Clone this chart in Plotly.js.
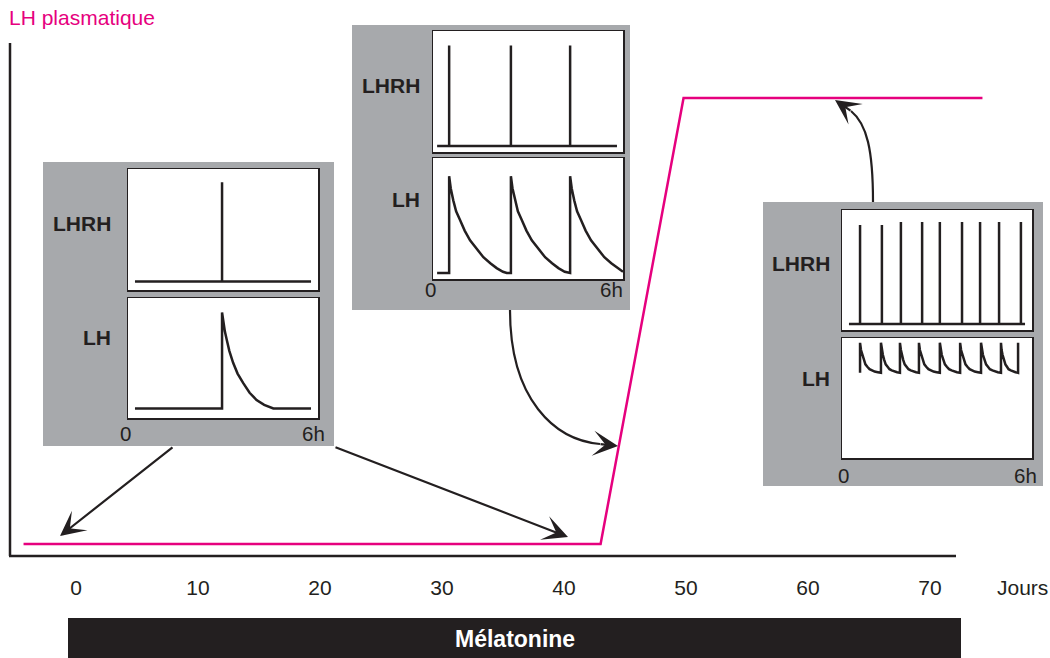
<!DOCTYPE html>
<html>
<head>
<meta charset="utf-8">
<script src="https://cdn.plot.ly/plotly-3.0.1.min.js"></script>
<style>html,body{margin:0;padding:0;background:#fff;}#chart{width:1050px;height:658px;}</style>
</head>
<body>
<div id="chart"></div>
<script>
// ---------- main curve: plasma LH over days ----------
const days = [-4.3, 43, 49.8, 74.3];
const lhPlasma = [0, 0, 100, 100];
const dayTicks = [0, 10, 20, 30, 40, 50, 60, 70];
const dayTickText = ['0', '10', '20', '30', '40', '50', '60', '70'];

// ---------- inset 1 (one pulse in 6 h) ----------
const lhrh1Hours = [0.22, 2.97, 2.97, 2.97, 5.78];
const lhrh1Level = [0.07, 0.07, 0.89, 0.07, 0.07];
const lh1Hours = [0.22, 2.97, 2.97, 3.01, 3.06, 3.12, 3.20, 3.32, 3.46, 3.64, 3.84, 4.06, 4.30, 4.59, 5.78];
const lh1Level = [0.08, 0.08, 0.88, 0.80, 0.72, 0.65, 0.56, 0.46, 0.37, 0.29, 0.21, 0.15, 0.11, 0.08, 0.08];

// ---------- inset 2 (three pulses in 6 h) ----------
const lhrh2Hours = [0.13, 0.51, 0.51, 0.51, 2.46, 2.46, 2.46, 4.33, 4.33, 4.33, 5.81];
const lhrh2Level = [0.05, 0.05, 0.88, 0.05, 0.05, 0.88, 0.05, 0.05, 0.88, 0.05, 0.05];
const lh2Hours = [0.13, 0.51,
  0.51, 0.56, 0.64, 0.73, 0.85, 1.00, 1.17, 1.37, 1.59, 1.81, 2.01, 2.21, 2.33, 2.46,
  2.46, 2.51, 2.59, 2.68, 2.80, 2.95, 3.12, 3.32, 3.54, 3.76, 3.96, 4.16, 4.28, 4.33,
  4.33, 4.38, 4.46, 4.55, 4.67, 4.82, 4.99, 5.19, 5.41, 5.63, 5.83, 6.00];
const lh2Level = [0.05, 0.05,
  0.85, 0.75, 0.65, 0.56, 0.49, 0.40, 0.32, 0.25, 0.18, 0.13, 0.09, 0.06, 0.05, 0.05,
  0.85, 0.75, 0.65, 0.56, 0.49, 0.40, 0.32, 0.25, 0.18, 0.13, 0.09, 0.06, 0.05, 0.05,
  0.85, 0.75, 0.65, 0.56, 0.49, 0.40, 0.32, 0.25, 0.18, 0.13, 0.09, 0.06];

// ---------- inset 3 (nine pulses in 6 h) ----------
const lhrh3Hours = [0.22, 0.57, 0.57, 0.57, 1.26, 1.26, 1.26, 1.86, 1.86, 1.86,
                    2.53, 2.53, 2.53, 3.09, 3.09, 3.09, 3.79, 3.79, 3.79,
                    4.36, 4.36, 4.36, 4.96, 4.96, 4.96, 5.65, 5.65, 5.65, 5.78];
const lhrh3Level = [0.05, 0.05, 0.875, 0.05, 0.05, 0.875, 0.05, 0.05, 0.9, 0.05,
                    0.05, 0.9, 0.05, 0.05, 0.9, 0.05, 0.05, 0.9, 0.05,
                    0.05, 0.9, 0.05, 0.05, 0.9, 0.05, 0.05, 0.9, 0.05, 0.05];
const lh3Hours = [0.57,
  0.57, 0.60, 0.64, 0.69, 0.74, 0.80, 0.87, 0.95, 1.03, 1.13, 1.23,
  1.23, 1.26, 1.29, 1.33, 1.38, 1.44, 1.50, 1.57, 1.65, 1.74, 1.83,
  1.83, 1.86, 1.89, 1.93, 1.98, 2.04, 2.10, 2.17, 2.25, 2.34, 2.43,
  2.43, 2.46, 2.50, 2.55, 2.60, 2.66, 2.73, 2.81, 2.89, 2.99, 3.09,
  3.09, 3.12, 3.15, 3.20, 3.25, 3.31, 3.38, 3.46, 3.54, 3.63, 3.73,
  3.73, 3.76, 3.80, 3.85, 3.90, 3.96, 4.03, 4.11, 4.19, 4.29, 4.39,
  4.39, 4.42, 4.45, 4.50, 4.55, 4.61, 4.67, 4.75, 4.83, 4.92, 5.02,
  5.02, 5.04, 5.07, 5.11, 5.16, 5.21, 5.26, 5.33, 5.40, 5.48, 5.56,
  5.56];
const lh3Level = [0.71,
  0.96, 0.90, 0.86, 0.82, 0.78, 0.76, 0.74, 0.73, 0.72, 0.715, 0.71,
  0.96, 0.90, 0.86, 0.82, 0.78, 0.76, 0.74, 0.73, 0.72, 0.715, 0.71,
  0.96, 0.90, 0.86, 0.82, 0.78, 0.76, 0.74, 0.73, 0.72, 0.715, 0.71,
  0.96, 0.90, 0.86, 0.82, 0.78, 0.76, 0.74, 0.73, 0.72, 0.715, 0.71,
  0.96, 0.90, 0.86, 0.82, 0.78, 0.76, 0.74, 0.73, 0.72, 0.715, 0.71,
  0.96, 0.90, 0.86, 0.82, 0.78, 0.76, 0.74, 0.73, 0.72, 0.715, 0.71,
  0.96, 0.90, 0.86, 0.82, 0.78, 0.76, 0.74, 0.73, 0.72, 0.715, 0.71,
  0.96, 0.90, 0.86, 0.82, 0.78, 0.76, 0.74, 0.73, 0.72, 0.715, 0.71,
  0.96];

// ---------- texts ----------
const yTitle = 'LH plasmatique';
const xTitle = 'Jours';
const barLabel = 'Mélatonine';
const hormoneLabels = ['LHRH', 'LH'];
const hourLabels = ['0', '6h'];

// ---------- layout helpers ----------
const W = 1050, H = 658;
const px = v => v / W;
const py = v => 1 - v / H;
const DARK = '#231f20', PINK = '#e6007e', GRAY = '#a7a9ac';
const FONT = 'Liberation Sans, Arial, Helvetica, sans-serif';

const traces = [{
  x: days, y: lhPlasma, xaxis: 'x', yaxis: 'y', mode: 'lines',
  line: {color: PINK, width: 2.5}, hoverinfo: 'skip', showlegend: false
}];
function pulseTrace(x, y, n) {
  return {x: x, y: y, xaxis: 'x' + n, yaxis: 'y' + n, mode: 'lines',
          line: {color: DARK, width: 2.5, shape: 'linear'}, hoverinfo: 'skip', showlegend: false};
}
traces.push(pulseTrace(lhrh1Hours, lhrh1Level, 2));
traces.push(pulseTrace(lh1Hours, lh1Level, 3));
traces.push(pulseTrace(lhrh2Hours, lhrh2Level, 4));
traces.push(pulseTrace(lh2Hours, lh2Level, 5));
traces.push(pulseTrace(lhrh3Hours, lhrh3Level, 6));
traces.push(pulseTrace(lh3Hours, lh3Level, 7));

const layout = {
  width: W, height: H,
  margin: {l: 0, r: 0, t: 0, b: 0},
  paper_bgcolor: 'white', plot_bgcolor: 'white',
  font: {family: FONT, color: DARK, size: 21},
  showlegend: false,
  xaxis: {domain: [0, 1], range: [-76 / 12.2, 974 / 12.2], anchor: 'y',
          showline: false, showgrid: false, zeroline: false,
          tickvals: dayTicks, ticktext: dayTickText, ticks: 'outside', ticklen: 0,
          ticklabelstandoff: 13, tickfont: {size: 21, color: DARK, family: FONT}},
  yaxis: {domain: [py(556), 1], range: [(544 - 556) / 4.46, 544 / 4.46], anchor: 'x',
          showline: false, showgrid: false, zeroline: false, showticklabels: false, ticks: ''},
  shapes: [], annotations: []
};

// inset axes
const insetBox = {showline: true, mirror: true, linecolor: DARK, linewidth: 1.5,
                  showgrid: false, zeroline: false, showticklabels: false, ticks: ''};
function addInset(n, left, right, top, bottom) {
  layout['xaxis' + n] = Object.assign({}, insetBox, {domain: [px(left), px(right)], range: [0, 6], anchor: 'y' + n});
  layout['yaxis' + n] = Object.assign({}, insetBox, {domain: [py(bottom), py(top)], range: [0, 1], anchor: 'x' + n});
}
addInset(2, 128, 318, 169, 290);
addInset(3, 128, 318, 298, 418);
addInset(4, 433, 623, 31, 152);
addInset(5, 433, 623, 158, 279);
addInset(6, 842, 1032, 210, 330);
addInset(7, 842, 1032, 338, 458);

// gray panels
[[43, 334, 162, 446], [352, 630, 25, 310], [763, 1043, 202, 486]].forEach(b => {
  layout.shapes.push({type: 'rect', xref: 'paper', yref: 'paper', layer: 'below',
    x0: px(b[0]), x1: px(b[1]), y0: py(b[3]), y1: py(b[2]),
    fillcolor: GRAY, line: {width: 0}});
});
// main axis lines
layout.shapes.push({type: 'line', xref: 'paper', yref: 'paper', layer: 'below',
  x0: px(10), x1: px(10), y0: py(556), y1: py(43), line: {color: DARK, width: 2.5}});
layout.shapes.push({type: 'line', xref: 'paper', yref: 'paper', layer: 'below',
  x0: px(9), x1: px(956), y0: py(556), y1: py(556), line: {color: DARK, width: 2.5}});
// melatonin bar
layout.shapes.push({type: 'rect', xref: 'paper', yref: 'paper', layer: 'below',
  x0: px(68), x1: px(961), y0: py(660), y1: py(618), fillcolor: DARK, line: {width: 0}});
// curved arrows (bodies)
function P(x, y) { return px(x).toFixed(5) + ',' + py(y).toFixed(5); }
layout.shapes.push({type: 'path', xref: 'paper', yref: 'paper', layer: 'above',
  path: 'M' + P(510, 310) + ' C' + P(510, 400) + ' ' + P(555, 440) + ' ' + P(600, 444),
  line: {color: DARK, width: 2.2}});
layout.shapes.push({type: 'path', xref: 'paper', yref: 'paper', layer: 'above',
  path: 'M' + P(873, 202) + ' C' + P(873, 150) + ' ' + P(867, 124) + ' ' + P(851, 111),
  line: {color: DARK, width: 2.2}});

// arrows (heads + straight arrows)
function arrow(hx, hy, ax, ay) {
  layout.annotations.push({xref: 'paper', yref: 'paper', x: px(hx), y: py(hy),
    ax: ax, ay: ay, text: ' ', font: {size: 1}, borderpad: 0, showarrow: true,
    arrowhead: 3, arrowsize: 1.9, arrowwidth: 2.2, arrowcolor: DARK,
    standoff: 0, startstandoff: 0});
}
arrow(60, 536, 113, -89);
arrow(568, 537, -233, -90);
arrow(618, 446, -18, -2);
arrow(835, 100, 16, 11);

// texts
function label(text, x, y, opts) {
  layout.annotations.push(Object.assign({xref: 'paper', yref: 'paper', x: px(x), y: py(y),
    text: text, showarrow: false, xanchor: 'center', yanchor: 'middle',
    font: {family: FONT, size: 21, color: DARK}}, opts || {}));
}
label(yTitle, 7, 17, {xanchor: 'left', font: {family: FONT, size: 21, color: PINK}});
label(xTitle, 1022, 587);
label('<b>' + barLabel + '</b>', 515, 639, {font: {family: FONT, size: 23, color: 'white'}});
const bold = {family: FONT, size: 21, color: DARK};
[[113, 223, 337], [422, 85, 200], [832, 264, 378]].forEach(r => {
  label('<b>' + hormoneLabels[0] + '</b>', r[0], r[1], {xanchor: 'right', font: bold});
  label('<b>' + hormoneLabels[1] + '</b>', r[0], r[2], {xanchor: 'right', font: bold});
});
const hourFont = {family: FONT, size: 20.5, color: DARK};
[[125, 313, 433], [430, 611, 289], [843, 1025, 475]].forEach(r => {
  label(hourLabels[0], r[0], r[2], {font: hourFont});
  label(hourLabels[1], r[1], r[2], {font: hourFont});
});

Plotly.newPlot('chart', traces, layout, {staticPlot: true, displayModeBar: false});
</script>
</body>
</html>
